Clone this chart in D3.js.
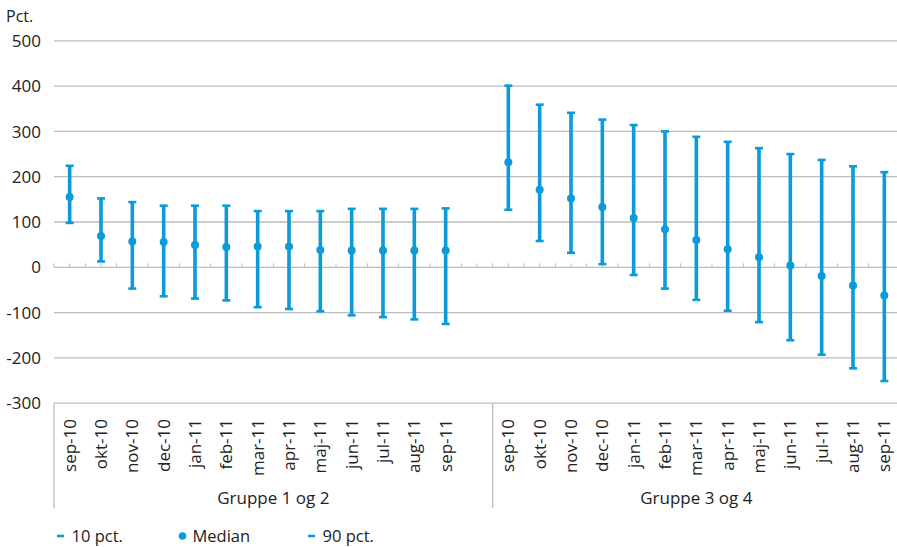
<!DOCTYPE html>
<html>
<head>
<meta charset="utf-8">
<script src="https://cdn.jsdelivr.net/npm/d3@7"></script>
<style>
  html, body { margin: 0; padding: 0; background: #fff; }
  svg { display: block; font-family: "Open Sans", "Noto Sans", sans-serif; }
</style>
</head>
<body>
<svg id="chart" width="897" height="547"></svg>
<script>
// Months shown in each group
const months = ["sep-10", "okt-10", "nov-10", "dec-10", "jan-11", "feb-11", "mar-11",
                "apr-11", "maj-11", "jun-11", "jul-11", "aug-11", "sep-11"];
const groups = ["Gruppe 1 og 2", "Gruppe 3 og 4"];

// Gruppe 1 og 2
const g1P10    = [98, 13, -47, -64, -69, -73, -88, -92, -97, -106, -110, -115, -125];
const g1Median = [155, 69, 57, 56, 49, 45, 46, 46, 38, 37, 37, 37, 37];
const g1P90    = [224, 152, 144, 136, 136, 136, 124, 124, 124, 129, 129, 129, 130];

// Gruppe 3 og 4
const g2P10    = [127, 58, 32, 7, -17, -47, -72, -96, -121, -161, -193, -223, -251];
const g2Median = [232, 171, 152, 133, 109, 84, 60, 40, 22, 4, -19, -40, -62];
const g2P90    = [401, 359, 341, 326, 314, 300, 288, 277, 263, 250, 237, 223, 210];

const yTicks = [500, 400, 300, 200, 100, 0, -100, -200, -300];
const legendLabels = ["10 pct.", "Median", "90 pct."];

const blue = "#0a9bd8";
const gridColor = "#bdbdbd";
const textColor = "#222";

const svg = d3.select("#chart");

// Category slots: 13 months + one empty slot in the first group, 13 in the second
const slots = [];
months.forEach((m, i) => slots.push("a" + i));
slots.push("a-gap");
months.forEach((m, i) => slots.push("b" + i));

const x = d3.scaleBand().domain(slots).range([54, 900]).paddingInner(0).paddingOuter(0);
const y = d3.scaleLinear().domain([-300, 500]).range([403.2, 40.8]);

const rows = [];
months.forEach((m, i) => rows.push({ key: "a" + i, month: m, lo: g1P10[i], med: g1Median[i], hi: g1P90[i] }));
months.forEach((m, i) => rows.push({ key: "b" + i, month: m, lo: g2P10[i], med: g2Median[i], hi: g2P90[i] }));
const cx = d => x(d.key) + x.bandwidth() / 2;

// Horizontal grid lines
svg.append("g").selectAll("line").data(yTicks).join("line")
  .attr("x1", 54).attr("x2", 897)
  .attr("y1", d => y(d)).attr("y2", d => y(d))
  .attr("stroke", gridColor).attr("stroke-width", 1.3);

// Y tick labels
svg.append("g").selectAll("text").data(yTicks).join("text")
  .attr("x", 41).attr("y", d => y(d)).attr("dy", "0.36em")
  .attr("text-anchor", "end").attr("fill", textColor)
  .style("font-size", "17px")
  .text(d => d);

svg.append("text").attr("x", 6).attr("y", 22)
  .attr("fill", textColor).style("font-size", "16px").text("Pct.");

// Small ticks along the zero line, every half category
const step = x.bandwidth() / 2;
const tickXs = d3.range(0, slots.length * 2 + 1).map(k => 54 + k * step);
svg.append("g").selectAll("line").data(tickXs).join("line")
  .attr("x1", d => d).attr("x2", d => d)
  .attr("y1", y(0)).attr("y2", y(0) - 4)
  .attr("stroke", gridColor).attr("stroke-width", 1);

// Category axis frame: outer edges and group separator
const sepXs = [x("a0"), x("b0"), x("b12") + x.bandwidth()];
svg.append("g").selectAll("line").data(sepXs).join("line")
  .attr("x1", d => d).attr("x2", d => d)
  .attr("y1", y(-300)).attr("y2", 508)
  .attr("stroke", gridColor).attr("stroke-width", 1.3);

// Month labels (rotated)
svg.append("g").selectAll("text").data(rows).join("text")
  .attr("transform", d => `translate(${cx(d)},419) rotate(-90)`)
  .attr("dy", "0.36em")
  .attr("text-anchor", "end").attr("fill", textColor)
  .style("font-size", "17px")
  .text(d => d.month);

// Group labels
const groupCenters = [(x("a0") + x("b0")) / 2, (x("b0") + x("b12") + x.bandwidth()) / 2];
svg.append("g").selectAll("text").data(groups).join("text")
  .attr("x", (d, i) => groupCenters[i]).attr("y", 503.5)
  .attr("text-anchor", "middle").attr("fill", textColor)
  .style("font-size", "17px")
  .text(d => d);

// Error bars: 10 pct. to 90 pct. with caps, median dot
const bars = svg.append("g").selectAll("g").data(rows).join("g");
bars.append("line")
  .attr("x1", cx).attr("x2", cx)
  .attr("y1", d => y(d.hi)).attr("y2", d => y(d.lo))
  .attr("stroke", blue).attr("stroke-width", 3.6);
bars.append("line")
  .attr("x1", d => cx(d) - 4).attr("x2", d => cx(d) + 4)
  .attr("y1", d => y(d.hi)).attr("y2", d => y(d.hi))
  .attr("stroke", blue).attr("stroke-width", 2.6);
bars.append("line")
  .attr("x1", d => cx(d) - 4).attr("x2", d => cx(d) + 4)
  .attr("y1", d => y(d.lo)).attr("y2", d => y(d.lo))
  .attr("stroke", blue).attr("stroke-width", 2.6);
bars.append("circle")
  .attr("cx", cx).attr("cy", d => y(d.med)).attr("r", 4)
  .attr("fill", blue);

// Legend
const legend = svg.append("g");
const legendX = [57, 178, 308];
legendLabels.forEach((label, i) => {
  if (label === "Median") {
    legend.append("circle").attr("cx", legendX[i] + 4.5).attr("cy", 536).attr("r", 3.8).attr("fill", blue);
  } else {
    legend.append("line").attr("x1", legendX[i]).attr("x2", legendX[i] + 7)
      .attr("y1", 536).attr("y2", 536).attr("stroke", blue).attr("stroke-width", 2.6);
  }
  legend.append("text").attr("x", legendX[i] + 14.5).attr("y", 542)
    .attr("fill", textColor).style("font-size", "16.5px").text(label);
});
</script>
</body>
</html>
